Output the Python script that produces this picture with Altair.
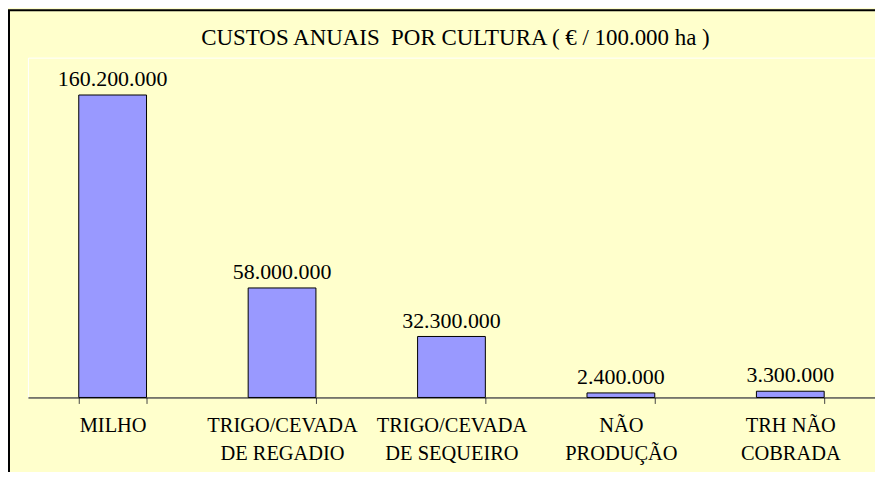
import altair as alt
import pandas as pd

categories = ["MILHO", "TRIGO/CEVADA|DE REGADIO", "TRIGO/CEVADA|DE SEQUEIRO", "NÃO|PRODUÇÃO", "TRH NÃO|COBRADA"]
values = [160200000, 58000000, 32300000, 2400000, 3300000]
value_labels = ["160.200.000", "58.000.000", "32.300.000", "2.400.000", "3.300.000"]
title_text = "CUSTOS ANUAIS\u00a0 POR CULTURA ( € / 100.000 ha )"

df = pd.DataFrame({"cat": categories, "val": values, "lab": value_labels})

FONT = "Liberation Serif"

x_enc = alt.X(
    "cat:N",
    sort=None,
    title=None,
    scale=alt.Scale(paddingInner=0.6, paddingOuter=0.3),
    axis=alt.Axis(
        labelExpr="split(datum.label, '|')",
        labelAngle=0,
        labelFont=FONT,
        labelFontSize=20.5,
        labelColor="black",
        labelLineHeight=28,
        labelPadding=12,
        labelBaseline="top",
        tickBand="extent",
        tickSize=6,
        tickColor="#444444",
        domainColor="black",
        domainWidth=1,
        grid=False,
    ),
)
y_enc = alt.Y("val:Q", axis=None, scale=alt.Scale(domain=[0, 180000000]))

base = alt.Chart(df)

bars = base.mark_bar(fill="#9999FF", stroke="black", strokeWidth=1).encode(x=x_enc, y=y_enc)

texts = base.mark_text(
    font=FONT, fontSize=22, color="black", baseline="alphabetic", dy=-9
).encode(x=x_enc, y=y_enc, text="lab:N")

border = alt.Chart(alt.Data(values=[{}])).mark_rect(
    fill="transparent", stroke="black", strokeWidth=2
).encode(
    x=alt.value(-19), x2=alt.value(1000), y=alt.value(-47.5), y2=alt.value(1000)
)

title = alt.Chart(alt.Data(values=[{"t": title_text}])).mark_text(
    font=FONT, fontSize=23, color="black", baseline="alphabetic", align="center"
).encode(x=alt.value(429), y=alt.value(-13), text="t:N")

chart = (
    alt.layer(border, bars, texts, title)
    .properties(
        width=850,
        height=341,
        background="#FFFFCC",
        padding={"left": 20, "top": 49, "right": 0, "bottom": 74},
        autosize=alt.AutoSizeParams(type="none"),
    )
    .configure_view(stroke="white", strokeWidth=1)
)

chart.save("out.html", embed_options={"renderer": "svg", "actions": False})
